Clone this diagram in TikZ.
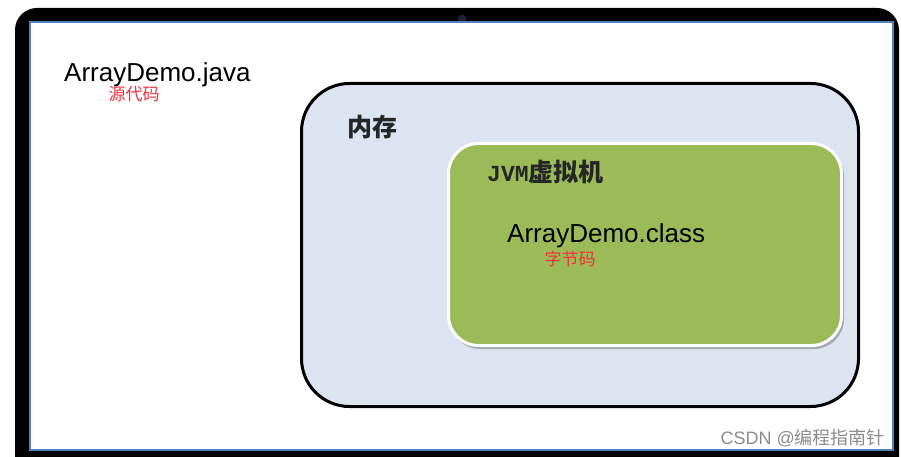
\documentclass[tikz,border=0pt]{standalone}
\usepackage{fontspec}
\setmainfont{Liberation Sans}
\setmonofont{Liberation Mono}
\newfontfamily\cjk{Noto Sans CJK SC}
\definecolor{memfill}{HTML}{DBE4F0}
\definecolor{jvmgreen}{HTML}{9BBB59}
\definecolor{screenblue}{HTML}{4F81BD}
\definecolor{notered}{HTML}{F2303C}
\definecolor{titlegray}{HTML}{262626}
\tikzset{
  x=1pt,y=-1pt,
}
\tikzstyle{bezel}=[fill=black,rounded corners=22pt]
\tikzstyle{screen}=[draw=screenblue,line width=2pt,fill=white]
\tikzstyle{memory}=[draw=black,line width=3pt,fill=memfill,rounded corners=48pt]
\tikzstyle{jvm}=[draw=white,line width=3pt,fill=jvmgreen,rounded corners=30pt]
\tikzstyle{jvmshadow}=[fill=black,opacity=.25,rounded corners=30pt]
\tikzstyle{file}=[font=\fontsize{26}{30}\selectfont,inner sep=0pt]
\tikzstyle{note}=[text=notered,font=\cjk\fontsize{17}{20}\selectfont,inner sep=0pt]
\tikzstyle{title}=[text=titlegray,font=\cjk\bfseries\fontsize{25}{30}\selectfont,inner sep=0pt]
\tikzstyle{watermarktext}=[text=black!45,font=\fontsize{18}{22}\selectfont,inner sep=0pt]

\begin{document}
\begin{tikzpicture}
    \useasboundingbox (0,0) rectangle (901,457);
    \clip (0,0) rectangle (901,457);
    \fill[bezel] (15,8) rectangle (899,490);
    \fill[blue!30!gray,opacity=.35] (462,19) circle (4.5);
    \draw[screen] (30,22) rectangle (893,450);
    \node[file,anchor=base west] (javafile) at (64,82) {ArrayDemo.java};
    \node[note] (sourcenote) at (134,94.5) {源代码};
    \draw[memory] (301.5,83.5) rectangle (858.5,406.5);
    \node[title] (memtitle) at (372,127.5) {内存};
    \fill[jvmshadow] (450,146) rectangle (844,349);
    \draw[jvm] (448.5,143.5) rectangle (841.5,345.5);
    \node[title,anchor=west] (jvmtitle) at (487,172) {{\ttfamily\fontsize{23}{28}\selectfont JVM}虚拟机};
    \node[file,anchor=base west] (classfile) at (507,242) {ArrayDemo.class};
    \node[note] (bytenote) at (570,258.5) {字节码};
    \node[watermarktext,anchor=east] (watermark) at (885,438.5) {CSDN @{\cjk 编程指南针}};
  \end{tikzpicture}
\end{document}
